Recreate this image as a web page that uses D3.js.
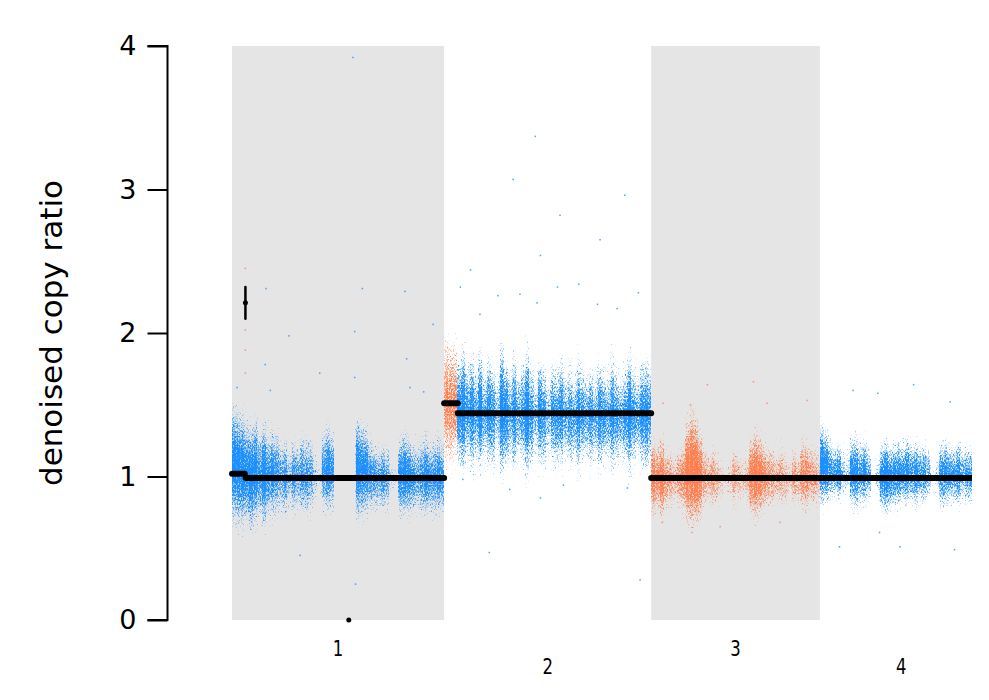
<!DOCTYPE html>
<html>
<head>
<meta charset="utf-8">
<script src="https://cdn.jsdelivr.net/npm/d3@7"></script>
<style>
body { margin: 0; background: #fff; }
svg text { font-family: "DejaVu Sans", sans-serif; }
</style>
</head>
<body>
<div id="chart"></div>
<script>
// chromosome names and lengths (Mb)
var chromNames = ["1", "2", "3", "4"];
var chromLengths = [249, 243, 198, 191];

// segments: [chrom index, start Mb, end Mb, mean copy ratio, ci low, ci high]
var segments = [
    [0, 0, 15, 1.02, null, null],
    [0, 15.5, 16, 2.21, 2.10, 2.32],
    [0, 16, 136.5, 0.99, null, null],
    [0, 137, 137.2, 0.0, null, null],
    [0, 137.5, 249, 0.99, null, null],
    [1, 0, 16, 1.51, null, null],
    [1, 16, 243, 1.44, null, null],
    [2, 0, 198, 0.99, null, null],
    [3, 0, 191, 0.99, null, null]
];

// denoised copy ratio clouds, 5 Mb bins: [top, bottom, density]
var binSize = 5;
var chr1Bins = [
    [1.45, 0.72, 1], [1.42, 0.70, 1], [1.40, 0.68, 1], [1.36, 0.70, 0.9], [1.33, 0.66, 1],
    [1.38, 0.70, 1], [1.30, 0.72, 0.8], [1.34, 0.68, 1], [1.28, 0.72, 0.8], [1.32, 0.74, 0.9],
    [1.30, 0.74, 0.8], [1.24, 0.76, 0.7], [1.26, 0.74, 0.8], [1.20, 0.78, 0.6], [1.24, 0.76, 0.8],
    [1.22, 0.78, 0.7], [1.28, 0.75, 0.8], [1.25, 0.74, 0.8], [1.27, 0.76, 0.7], [1.18, 0.80, 0.5],
    [1.12, 0.84, 0.35], [1.30, 0.78, 0.8], [1.34, 0.77, 0.9], [1.30, 0.78, 0.8],
    null, null, null, null, null,
    [1.38, 0.72, 1], [1.36, 0.74, 0.9], [1.32, 0.76, 0.9], [1.24, 0.77, 0.8], [1.22, 0.78, 0.8],
    [1.20, 0.77, 0.7], [1.23, 0.76, 0.8], [1.20, 0.78, 0.7], [1.12, 0.86, 0.4], [1.10, 0.88, 0.35],
    [1.26, 0.74, 0.9], [1.28, 0.75, 1], [1.25, 0.74, 0.9], [1.22, 0.76, 0.8], [1.20, 0.76, 0.7],
    [1.24, 0.75, 0.8], [1.26, 0.74, 0.9], [1.22, 0.76, 0.8], [1.24, 0.74, 0.8], [1.26, 0.75, 0.9],
    [1.22, 0.76, 0.8]
];
var chr2Bins = [
    [1.95, 1.10, 0.8], [1.92, 1.08, 0.8], [1.90, 1.12, 0.8], [1.80, 1.10, 0.9], [1.86, 1.08, 1],
    [1.78, 1.12, 0.8], [1.82, 1.06, 0.9], [1.76, 1.10, 0.7], [1.84, 1.08, 1], [1.74, 1.12, 0.7],
    [1.80, 1.10, 0.9], [1.78, 1.06, 0.8], [1.72, 1.12, 0.6], [1.88, 1.04, 1], [1.80, 1.08, 0.9],
    [1.76, 1.10, 0.7], [1.82, 1.06, 0.9], [1.74, 1.12, 0.7], [1.78, 1.10, 0.8], [1.86, 1.04, 1],
    [1.76, 1.08, 0.8], [1.72, 1.12, 0.6], [1.80, 1.10, 0.9], [1.76, 1.08, 0.8], [1.70, 1.12, 0.6],
    [1.78, 1.10, 0.8], [1.74, 1.06, 0.8], [1.80, 1.10, 0.9], [1.72, 1.12, 0.7], [1.76, 1.08, 0.8],
    [1.70, 1.10, 0.7], [1.78, 1.06, 0.9], [1.74, 1.10, 0.8], [1.72, 1.12, 0.7], [1.76, 1.08, 0.8],
    [1.70, 1.12, 0.7], [1.78, 1.08, 0.9], [1.74, 1.10, 0.8], [1.72, 1.10, 0.7], [1.80, 1.06, 0.9],
    [1.74, 1.10, 0.8], [1.70, 1.12, 0.7], [1.76, 1.08, 0.8], [1.82, 1.06, 1], [1.74, 1.10, 0.8],
    [1.72, 1.12, 0.7], [1.78, 1.08, 0.9], [1.80, 1.06, 0.9], [1.76, 1.10, 0.8]
];
var chr3Bins = [
    [1.24, 0.74, 0.9], [1.22, 0.76, 0.8], [1.26, 0.72, 0.9], [1.20, 0.76, 0.7], [1.18, 0.78, 0.7],
    [1.16, 0.80, 0.6], [1.20, 0.78, 0.7], [1.22, 0.76, 0.8], [1.36, 0.70, 1], [1.44, 0.66, 1],
    [1.38, 0.68, 1], [1.30, 0.72, 0.9], [1.22, 0.78, 0.7], [1.18, 0.80, 0.6], [1.20, 0.78, 0.7],
    [1.16, 0.80, 0.6], [1.14, 0.82, 0.5], [1.10, 0.84, 0.4], [1.12, 0.84, 0.5], [1.20, 0.80, 0.7],
    [1.18, 0.80, 0.6], [1.14, 0.82, 0.5], [1.16, 0.80, 0.6], [1.26, 0.74, 0.9], [1.30, 0.72, 1],
    [1.28, 0.74, 0.9], [1.24, 0.76, 0.8], [1.22, 0.78, 0.7], [1.20, 0.78, 0.7], [1.16, 0.80, 0.6],
    [1.20, 0.80, 0.7], [1.18, 0.78, 0.6], [1.14, 0.82, 0.5], [1.20, 0.80, 0.7], [1.16, 0.80, 0.6],
    [1.24, 0.78, 0.8], [1.26, 0.76, 0.8], [1.22, 0.80, 0.7], [1.20, 0.78, 0.7], [1.18, 0.80, 0.6]
];
var chr4Bins = [
    [1.34, 0.82, 1], [1.30, 0.84, 1], [1.24, 0.84, 0.8], [1.20, 0.86, 0.8], [1.22, 0.84, 0.9],
    [1.18, 0.86, 0.6], [1.20, 0.86, 0.5], [1.26, 0.80, 0.9], [1.28, 0.78, 0.9], [1.24, 0.80, 0.8],
    [1.26, 0.80, 0.9], [1.20, 0.82, 0.7], [1.10, 0.90, 0.3], [1.14, 0.86, 0.5], [1.22, 0.78, 0.9],
    [1.24, 0.76, 1], [1.20, 0.78, 0.9], [1.22, 0.80, 0.9], [1.24, 0.80, 0.9], [1.22, 0.82, 0.8],
    [1.26, 0.80, 0.9], [1.22, 0.82, 0.8], [1.24, 0.80, 0.9], [1.20, 0.82, 0.8], [1.22, 0.82, 0.8],
    [1.20, 0.84, 0.7], [1.10, 0.90, 0.3], [1.14, 0.86, 0.5], [1.22, 0.80, 0.9], [1.24, 0.80, 0.9],
    [1.22, 0.82, 0.8], [1.20, 0.82, 0.8], [1.24, 0.80, 0.9], [1.20, 0.84, 0.7], [1.22, 0.82, 0.8],
    [1.20, 0.82, 0.8], [1.20, 0.84, 0.8], [1.20, 0.84, 0.8]
];
var chromBins = [chr1Bins, chr2Bins, chr3Bins, chr4Bins];

// scattered points away from the clouds: [chrom index, Mb, copy ratio]
var outliers = [
    [0, 40, 2.31], [0, 67, 1.98], [0, 39, 1.78], [0, 144, 2.01], [0, 153, 2.31], [0, 203, 2.29],
    [0, 236, 2.06], [0, 103, 1.72], [0, 205, 1.82], [0, 225, 1.59], [0, 45, 1.60], [0, 6, 1.62],
    [0, 144, 1.69], [0, 209, 1.62], [0, 145, 0.25], [0, 142, 3.92], [0, 80, 0.45],
    [0, 15.6, 2.45], [0, 15.6, 2.02], [0, 15.7, 1.88], [0, 15.6, 1.72],
    [1, 19, 2.32], [1, 63, 2.26], [1, 133, 2.32], [1, 158, 2.34], [1, 228, 2.28], [1, 89, 2.27],
    [1, 42, 2.13], [1, 109, 2.21], [1, 203, 2.17], [1, 180, 2.20], [1, 22, 0.98], [1, 77, 0.91],
    [1, 140, 0.94], [1, 215, 0.92], [1, 113, 0.85], [1, 31, 2.44], [1, 113, 2.54], [1, 183, 2.65],
    [1, 136, 2.82], [1, 212, 2.96], [1, 81, 3.07], [1, 53, 0.47], [1, 230, 0.28], [1, 107, 3.37],
    [2, 14, 1.51], [2, 46, 1.50], [2, 66, 1.64], [2, 120, 1.66], [2, 136, 1.51], [2, 183, 1.53],
    [2, 48, 0.61], [2, 81, 0.65], [2, 151, 0.68], [2, 13, 0.68],
    [3, 39, 1.60], [3, 68, 1.58], [3, 110, 1.64], [3, 153, 1.52], [3, 23, 0.51], [3, 94, 0.51],
    [3, 158, 0.49], [3, 70, 0.61]
];

var yTicks = [0, 1, 2, 3, 4];
var blue = "#1e90ff", orange = "#ff7f50";

var svgWidth = 989, svgHeight = 700;
var plotRight = 972;
var haloPad = 0.25; // faint tail drawn past each cloud's top/bottom, as a share of its height

var svg = d3.select("#chart").append("svg")
    .attr("width", svgWidth)
    .attr("height", svgHeight);

// cumulative chromosome offsets
var offsets = [];
var total = 0;
chromLengths.forEach(function (len) { offsets.push(total); total += len; });

var x = d3.scaleLinear().domain([0, total]).range([232, 232 + total * 0.852]);
var y = d3.scaleLinear().domain([0, 4]).range([620, 46]);

function gx(c, mb) { return x(offsets[c] + mb); }

function segColor(i) { return i % 2 == 0 ? blue : orange; }
function colorAt(c, mb) {
    var idx = 0;
    segments.forEach(function (s, i) {
        if (s[0] == c && mb >= s[1] && mb <= s[2] && s[2] - s[1] > 1) idx = i;
    });
    if (c == 0 && mb > 15.4 && mb < 16) idx = 1;
    return segColor(idx);
}

var defs = svg.append("defs");
defs.append("clipPath").attr("id", "plotClip")
    .append("rect").attr("x", 0).attr("y", 0).attr("width", plotRight).attr("height", svgHeight);

[["gBlue", blue], ["gOrange", orange]].forEach(function (g) {
    var grad = defs.append("linearGradient").attr("id", g[0])
        .attr("x1", 0).attr("y1", 0).attr("x2", 0).attr("y2", 1);
    [[0, 0.02], [0.167, 0.3], [0.35, 0.65], [0.5, 0.85], [0.65, 0.65], [0.833, 0.3], [1, 0.02]].forEach(function (s) {
        grad.append("stop").attr("offset", s[0]).attr("stop-color", g[1]).attr("stop-opacity", s[1]);
    });
});

// speckle texture so the clouds read as points
var filt = defs.append("filter").attr("id", "speckle")
    .attr("filterUnits", "userSpaceOnUse")
    .attr("x", 0).attr("y", 0).attr("width", svgWidth).attr("height", svgHeight);
filt.append("feComponentTransfer").attr("in", "SourceGraphic").attr("result", "solid")
    .append("feFuncA").attr("type", "linear").attr("slope", 40).attr("intercept", 0);
filt.append("feTurbulence").attr("type", "fractalNoise").attr("baseFrequency", "1.4 0.55")
    .attr("numOctaves", 2).attr("seed", 7).attr("result", "noise");
filt.append("feColorMatrix").attr("in", "noise").attr("type", "matrix")
    .attr("values", "0 0 0 0 0  0 0 0 0 0  0 0 0 0 0  1 0 0 0 0").attr("result", "n");
filt.append("feComposite").attr("in", "SourceAlpha").attr("in2", "n")
    .attr("operator", "arithmetic").attr("k1", 0).attr("k2", 3.2).attr("k3", 3.2).attr("k4", -2.7)
    .attr("result", "mask");
filt.append("feComposite").attr("in", "solid").attr("in2", "mask").attr("operator", "in");

var plot = svg.append("g").attr("clip-path", "url(#plotClip)");

// alternating chromosome shading
plot.selectAll(".shade")
    .data(chromNames.filter(function (d, i) { return i % 2 == 0; }))
    .enter()
    .append("rect")
    .attr("class", "shade")
    .attr("x", function (d) { var c = chromNames.indexOf(d); return gx(c, 0); })
    .attr("y", y(4))
    .attr("width", function (d) { var c = chromNames.indexOf(d); return gx(c, chromLengths[c]) - gx(c, 0); })
    .attr("height", y(0) - y(4))
    .attr("fill", "#e5e5e5");

// copy ratio clouds
var binRows = [];
chromBins.forEach(function (bins, c) {
    bins.forEach(function (b, i) {
        if (!b) return;
        var s = i * binSize, e = Math.min(s + binSize, chromLengths[c]);
        binRows.push({ c: c, s: s, e: e, hi: b[0], lo: b[1], d: b[2] });
    });
});

plot.append("g").attr("filter", "url(#speckle)")
    .selectAll("rect")
    .data(binRows)
    .enter()
    .append("rect")
    .attr("x", function (d) { return gx(d.c, d.s); })
    .attr("width", function (d) { return gx(d.c, d.e) - gx(d.c, d.s); })
    .attr("y", function (d) { return y(d.hi + haloPad * (d.hi - d.lo)); })
    .attr("height", function (d) { return y(d.lo - haloPad * (d.hi - d.lo)) - y(d.hi + haloPad * (d.hi - d.lo)); })
    .attr("fill", function (d) { return colorAt(d.c, (d.s + d.e) / 2) == blue ? "url(#gBlue)" : "url(#gOrange)"; })
    .attr("fill-opacity", function (d) { return d.d; });

plot.append("g")
    .selectAll("rect")
    .data(outliers)
    .enter()
    .append("rect")
    .attr("x", function (d) { return gx(d[0], d[1]) - 0.75; })
    .attr("y", function (d) { return y(d[2]) - 0.75; })
    .attr("width", 1.5)
    .attr("height", 1.5)
    .attr("fill", function (d) { return colorAt(d[0], d[1]); })
    .attr("opacity", 0.8);

// segment means
plot.append("g")
    .selectAll("line")
    .data(segments.filter(function (s) { return s[2] - s[1] > 1; }))
    .enter()
    .append("line")
    .attr("x1", function (d) { return gx(d[0], d[1]); })
    .attr("x2", function (d) { return gx(d[0], d[2]); })
    .attr("y1", function (d) { return y(d[3]); })
    .attr("y2", function (d) { return y(d[3]); })
    .attr("stroke", "#000")
    .attr("stroke-width", 6)
    .attr("stroke-linecap", "round");

// short segments: point with confidence bar
var small = segments.filter(function (s) { return s[2] - s[1] <= 1; });
plot.append("g").selectAll("line")
    .data(small.filter(function (s) { return s[4] != null; }))
    .enter()
    .append("line")
    .attr("x1", function (d) { return gx(d[0], (d[1] + d[2]) / 2); })
    .attr("x2", function (d) { return gx(d[0], (d[1] + d[2]) / 2); })
    .attr("y1", function (d) { return y(d[5]); })
    .attr("y2", function (d) { return y(d[4]); })
    .attr("stroke", "#000")
    .attr("stroke-width", 2.5)
    .attr("stroke-linecap", "round");
plot.append("g").selectAll("circle")
    .data(small)
    .enter()
    .append("circle")
    .attr("cx", function (d) { return gx(d[0], (d[1] + d[2]) / 2); })
    .attr("cy", function (d) { return y(d[3]); })
    .attr("r", 2.5)
    .attr("fill", "#000");

// y axis
var yAxis = d3.axisLeft(y).tickValues(yTicks).tickFormat(d3.format("d")).tickSize(20).tickPadding(11);
var yg = svg.append("g").attr("transform", "translate(167.5,0)").call(yAxis);
yg.select(".domain").attr("stroke-width", 2).attr("d", "M-20," + y(4) + "H0V" + y(0) + "H-20");
yg.selectAll(".tick line").attr("stroke-width", 2);
yg.selectAll(".tick text").attr("font-size", 27).attr("fill", "#000").attr("font-family", "DejaVu Sans");

svg.append("text")
    .attr("transform", "translate(62," + y(2) + ") rotate(-90)")
    .attr("text-anchor", "middle")
    .attr("font-size", 31)
    .text("denoised copy ratio");

// chromosome labels, alternating heights
svg.selectAll(".chromLabel")
    .data(chromNames)
    .enter()
    .append("text")
    .attr("class", "chromLabel")
    .attr("x", function (d, i) { return gx(i, chromLengths[i] / 2); })
    .attr("y", function (d, i) { return i % 2 == 0 ? 656 : 674; })
    .attr("text-anchor", "middle")
    .attr("font-size", 22)
    .attr("transform", function (d, i) {
        var cx = gx(i, chromLengths[i] / 2);
        return "translate(" + cx + ",0) scale(0.75,1) translate(" + (-cx) + ",0)";
    })
    .text(function (d) { return d; });
</script>
</body>
</html>
